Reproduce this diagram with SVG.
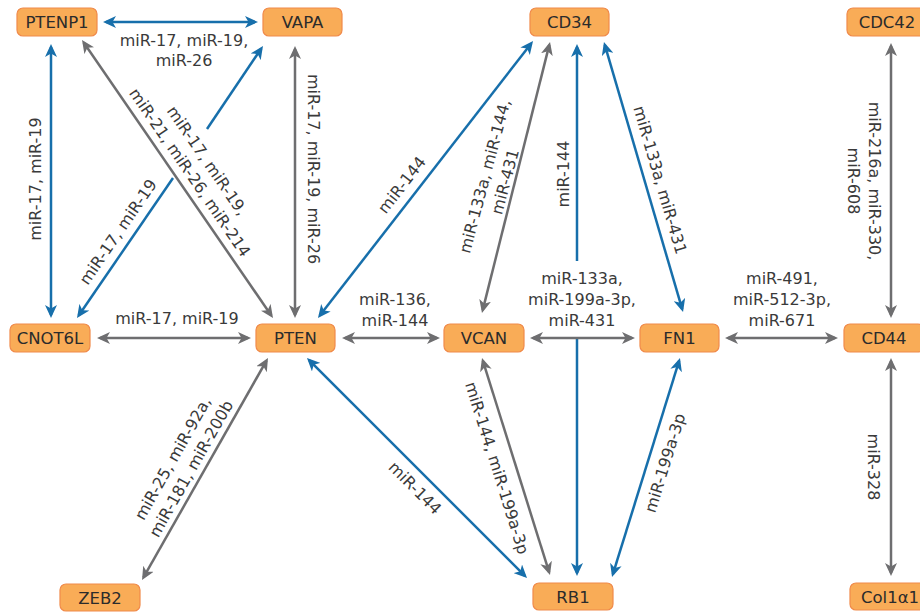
<svg xmlns="http://www.w3.org/2000/svg" width="920" height="613" viewBox="0 0 920 613">
<style>
.node rect{fill:#F9AC57;stroke:#F08A4A;stroke-width:1.2}
.node text{font-family:"DejaVu Sans",sans-serif;font-size:16.5px;fill:#2b2b2b;text-anchor:middle}
.lbl{font-family:"DejaVu Sans",sans-serif;font-size:16px;fill:#3a3a3a;text-anchor:middle}
.b{stroke:#176FAB;stroke-width:2.5;fill:none}
.g{stroke:#6E6E70;stroke-width:2.5;fill:none}
.b2{stroke:#176FAB;stroke-width:2.5;fill:none;marker-start:url(#ab);marker-end:url(#ab)}
.g2{stroke:#6E6E70;stroke-width:2.5;fill:none;marker-start:url(#ag);marker-end:url(#ag)}
</style>
<defs>
<marker id="ab" viewBox="0 0 13 12" refX="10" refY="6" markerWidth="13" markerHeight="12" markerUnits="userSpaceOnUse" orient="auto-start-reverse"><path d="M0,0 L13,6 L0,12 L3.5,6 Z" fill="#176FAB"/></marker>
<marker id="ag" viewBox="0 0 13 12" refX="10" refY="6" markerWidth="13" markerHeight="12" markerUnits="userSpaceOnUse" orient="auto-start-reverse"><path d="M0,0 L13,6 L0,12 L3.5,6 Z" fill="#6E6E70"/></marker>
</defs>
<rect width="920" height="613" fill="#ffffff"/>
<g id="connectors">
<path class="b2" d="M106,22 L255,22"/>
<path class="b2" d="M51,47 L51,315"/>
<path class="b" marker-start="url(#ab)" d="M261.3,48.5 L207,129"/>
<path class="b" marker-end="url(#ab)" d="M173,178 L78.7,315.5"/>
<path class="g2" d="M83.7,42.5 L271.3,315.5"/>
<path class="g2" d="M295,49 L295,315"/>
<path class="g2" d="M100,338 L248,338"/>
<path class="b2" d="M319.8,315.6 L531.2,43.4"/>
<path class="g2" d="M345,338 L437,338"/>
<path class="g2" d="M482.7,310.1 L549.3,44.9"/>
<path class="b" marker-start="url(#ab)" d="M577,47 L577,261"/>
<path class="b" marker-end="url(#ab)" d="M577,338 L577,573"/>
<path class="b2" d="M604.8,44.9 L682.2,309.1"/>
<path class="g2" d="M533,338 L632,338"/>
<path class="g2" d="M728,338 L835,338"/>
<path class="g2" d="M891,46 L891,315"/>
<path class="g2" d="M266.5,360.6 L143.5,577.4"/>
<path class="b2" d="M309.1,360.1 L524.9,575.9"/>
<path class="g2" d="M482.9,360.9 L549.1,572.1"/>
<path class="b2" d="M679.1,360.9 L612.9,574.1"/>
<path class="g2" d="M891,361 L891,573"/>
</g>
<g id="labels">
<text class="lbl" x="184" y="46">miR-17, miR-19,<tspan x="184" y="66">miR-26</tspan></text>
<text class="lbl" transform="translate(35,179) rotate(-90)" y="5.5">miR-17, miR-19</text>
<text class="lbl" transform="translate(118,232) rotate(-55.6)" y="5.5">miR-17, miR-19</text>
<text class="lbl" transform="translate(198.5,166.5) rotate(55.5)" y="-5">miR-17, miR-19,<tspan x="0" y="16">miR-21, miR-26, miR-214</tspan></text>
<text class="lbl" transform="translate(313,169) rotate(90)" y="5.5">miR-17, miR-19, miR-26</text>
<text class="lbl" x="177" y="324">miR-17, miR-19</text>
<text class="lbl" transform="translate(402,185) rotate(-52.2)" y="5.5">miR-144</text>
<text class="lbl" x="395" y="305">miR-136,<tspan x="395" y="326">miR-144</tspan></text>
<text class="lbl" transform="translate(495,179) rotate(-75)" y="-5">miR-133a, miR-144,<tspan x="0" y="16">miR-431</tspan></text>
<text class="lbl" transform="translate(563,174) rotate(-90)" y="5.5">miR-144</text>
<text class="lbl" transform="translate(660,180) rotate(73.7)" y="5.5">miR-133a, miR-431</text>
<text class="lbl" x="582" y="284">miR-133a,<tspan x="582" y="305">miR-199a-3p,</tspan><tspan x="582" y="326">miR-431</tspan></text>
<text class="lbl" x="782" y="284">miR-491,<tspan x="782" y="305">miR-512-3p,</tspan><tspan x="782" y="326">miR-671</tspan></text>
<text class="lbl" transform="translate(863.5,181) rotate(90)" y="-5">miR-216a, miR-330,<tspan x="0" y="16">miR-608</tspan></text>
<text class="lbl" transform="translate(182,463.5) rotate(-60.6)" y="-5">miR-25, miR-92a,<tspan x="0" y="16">miR-181, miR-200b</tspan></text>
<text class="lbl" transform="translate(415,488) rotate(45)" y="5.5">miR-144</text>
<text class="lbl" transform="translate(497,468) rotate(72.6)" y="5.5">miR-144, miR-199a-3p</text>
<text class="lbl" transform="translate(665,463) rotate(-72.8)" y="5.5">miR-199a-3p</text>
<text class="lbl" transform="translate(873,467) rotate(90)" y="5.5">miR-328</text>
</g>
<g id="PTENP1" class="node"><rect x="17" y="8" width="80" height="28" rx="6"/><text x="57" y="28">PTENP1</text></g>
<g id="VAPA" class="node"><rect x="263" y="8" width="79" height="28" rx="6"/><text x="302.5" y="28">VAPA</text></g>
<g id="CD34" class="node"><rect x="530" y="8" width="79" height="28" rx="6"/><text x="569.5" y="28">CD34</text></g>
<g id="CDC42" class="node"><rect x="847" y="8" width="80" height="28" rx="6"/><text x="887" y="28">CDC42</text></g>
<g id="CNOT6L" class="node"><rect x="10" y="324" width="80" height="28" rx="6"/><text x="50" y="344">CNOT6L</text></g>
<g id="PTEN" class="node"><rect x="256" y="324" width="79" height="28" rx="6"/><text x="295.5" y="344">PTEN</text></g>
<g id="VCAN" class="node"><rect x="444" y="324" width="80" height="28" rx="6"/><text x="484" y="344">VCAN</text></g>
<g id="FN1" class="node"><rect x="640" y="324" width="79" height="28" rx="6"/><text x="679.5" y="344">FN1</text></g>
<g id="CD44" class="node"><rect x="844" y="324" width="80" height="28" rx="6"/><text x="884" y="344">CD44</text></g>
<g id="ZEB2" class="node"><rect x="60" y="584" width="80" height="27" rx="6"/><text x="100" y="603.5">ZEB2</text></g>
<g id="RB1" class="node"><rect x="533" y="583" width="80" height="27" rx="6"/><text x="573" y="602.5">RB1</text></g>
<g id="Col1a1" class="node"><rect x="850" y="583" width="80" height="27" rx="6"/><text x="890" y="602.5">Col1α1</text></g>
</svg>
